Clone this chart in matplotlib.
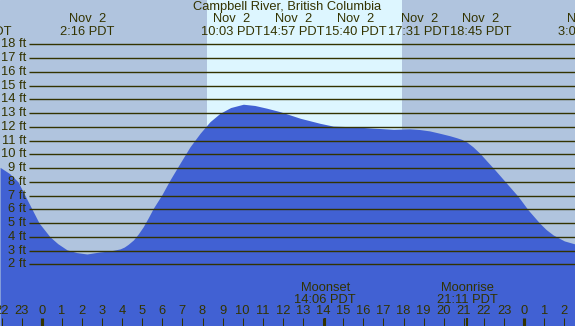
## Tide chart, Campbell River
import numpy as np
import matplotlib
matplotlib.use("Agg")
import matplotlib.pyplot as plt
import matplotlib.transforms as mtransforms

## -----------------------
## Data
hours = [-2.07, -1.6, -1.18, -0.83, -0.48, -0.13, 0.41, 0.8, 1.26, 1.75, 2.25, 2.9,
         3.4, 3.9, 4.1, 4.3, 4.56, 4.8, 5.05, 5.3, 5.55, 5.97, 6.38, 6.88, 7.38, 7.88,
         8.37, 8.87, 9.4, 10.03, 10.6, 11.2, 11.86, 12.86, 13.85, 14.5, 15.5, 16.5,
         17.5, 18.3, 18.8, 19.3, 19.8, 20.3, 20.65, 20.9, 21.14, 21.45, 21.8, 22.15,
         22.55, 23.13, 23.71, 24.2, 24.78, 25.1, 25.45, 26.0, 26.53]
height_ft = [9.05, 8.6, 8.0, 7.0, 6.0, 5.0, 4.0, 3.5, 3.05, 2.85, 2.75, 2.9,
             2.97, 3.12, 3.25, 3.45, 3.77, 4.2, 4.73, 5.38, 6.07, 7.04, 8.13, 9.35, 10.55, 11.53,
             12.37, 12.98, 13.4, 13.64, 13.55, 13.35, 13.1, 12.62, 12.25, 12.05, 12.0, 11.9,
             11.82, 11.85, 11.8, 11.7, 11.53, 11.35, 11.2, 11.08, 10.9, 10.55, 10.07, 9.5,
             8.86, 7.89, 6.92, 5.95, 4.98, 4.52, 4.13, 3.7, 3.48]

ft_levels = list(range(2, 19))
day_start, day_end = 8.21, 17.93

## top labels: (position in hours, date, time)
event_pos = [-3.02, 2.27, 9.45, 12.52, 15.63, 18.78, 21.85, 27.04]
event_date = ["Nov  1", "Nov  2", "Nov  2", "Nov  2", "Nov  2", "Nov  2", "Nov  2", "Nov  3"]
event_time = ["21:58 PDT", "2:16 PDT", "10:03 PDT", "14:57 PDT", "15:40 PDT",
              "17:31 PDT", "18:45 PDT", "3:04 PDT"]

moon_hours = [14.1, 21.18]
moon_names = ["Moonset", "Moonrise"]
moon_times = ["14:06 PDT", "21:11 PDT"]

hour_ticks = list(range(-2, 27))

## -----------------------
## Style
night_col = "#b0c4de"
day_col = "#ddf6ff"
water_col = "#4161d3"
line_col = "#333300"
plt.rcParams['font.family'] = ['Liberation Sans', 'DejaVu Sans']
fs = 9.3

x_min, x_max = -2.075, 26.53
y_min, y_max = -2.487, 21.22

fig = plt.figure(figsize=(5.75, 3.26), dpi=100)
ax = fig.add_axes([0, 0, 1, 1])
ax.set_xlim(x_min, x_max)
ax.set_ylim(y_min, y_max)
ax.axis('off')
ax.add_patch(plt.Rectangle((0, 0), 1, 1, transform=ax.transAxes, color=night_col, zorder=0))

## day band
ax.axvspan(day_start, day_end, color=day_col, zorder=1, lw=0)

## water
ax.fill_between(hours, y_min, height_ft, color=water_col, lw=0, zorder=2)

## foot lines + labels
for f in ft_levels:
    ax.plot([-0.632, x_max], [f, f], color=line_col, lw=1.0, zorder=3, solid_capstyle='butt')
    ax.text(-0.78, f, f"{f} ft", ha='right', va='center', fontsize=fs, color=line_col, zorder=4)

trans = mtransforms.blended_transform_factory(ax.transData, ax.transAxes)

## title + event labels
ax.text(0.5, 0.978, "Campbell River, British Columbia", transform=ax.transAxes,
        ha='center', va='center', fontsize=fs, color=line_col, zorder=5)
for pos, d, t in zip(event_pos, event_date, event_time):
    ax.text(pos, 0.942, d, transform=trans, ha='center', va='center', fontsize=fs,
            color=line_col, zorder=5, clip_on=True)
    ax.text(pos, 0.902, t, transform=trans, ha='center', va='center', fontsize=fs,
            color=line_col, zorder=5, clip_on=True)

## hour ticks
for h in hour_ticks:
    w = 3 if h % 24 == 0 else 1
    ax.plot([h, h], [0, 0.0245], transform=trans, color=line_col, lw=w * 0.75,
            zorder=5, solid_capstyle='butt')
    ax.text(h, 0.046, str(h % 24), transform=trans, ha='center', va='center',
            fontsize=fs, color=line_col, zorder=5, clip_on=True)

## moon events
for h, n, t in zip(moon_hours, moon_names, moon_times):
    ax.plot([h, h], [0, 0.0245], transform=trans, color=line_col, lw=1.5,
            zorder=5, solid_capstyle='butt')
    ax.text(h, 0.1166, n, transform=trans, ha='center', va='center', fontsize=fs,
            color=line_col, zorder=5)
    ax.text(h, 0.08, t, transform=trans, ha='center', va='center', fontsize=fs,
            color=line_col, zorder=5)

fig.savefig("out.png", dpi=100)
